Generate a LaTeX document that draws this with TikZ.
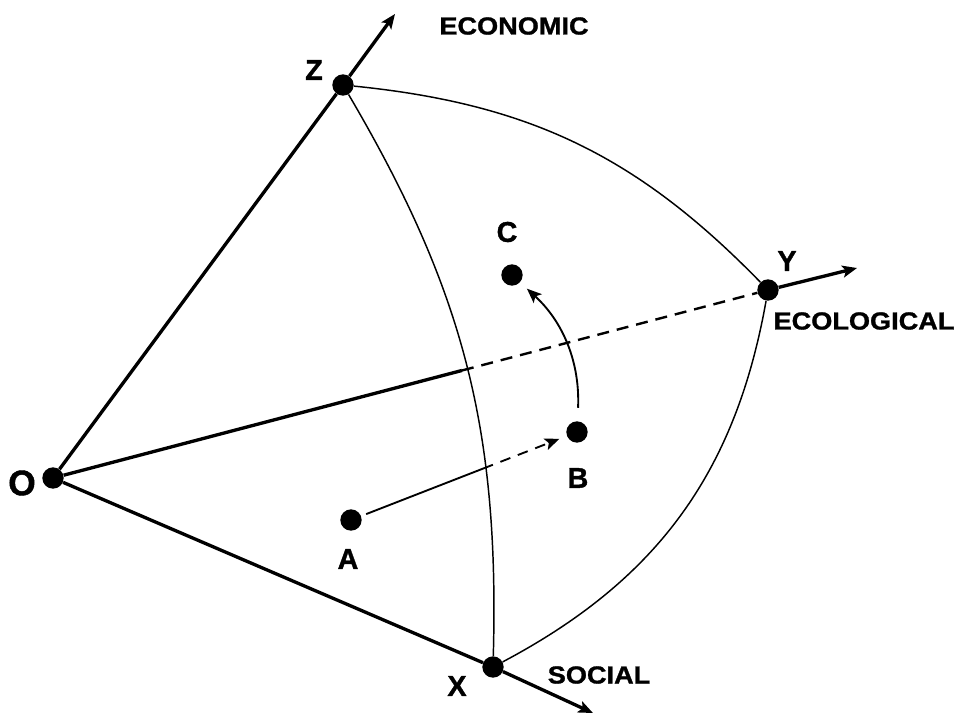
\documentclass[tikz,border=0pt]{standalone}
\usepackage{fontspec}
\newfontfamily\axisfont{Liberation Sans Bold}[FakeStretch=1.1,FakeBold=1.2]
\newfontfamily\letterfont{Liberation Sans Bold}[FakeBold=1.2]
\usepackage{tikz}
\usetikzlibrary{arrows.meta,calc}
\definecolor{diagink}{HTML}{000000}
\tikzset{
  >={Stealth[length=11pt,width=9pt,inset=2.5pt]},
  pointnode/.style={circle,fill=diagink,inner sep=0pt,minimum size=16pt},
  axisline/.style={line width=2.5pt,draw=diagink},
  axisarrow/.style={->,line width=2.5pt,draw=diagink},
  hiddenline/.style={dash pattern=on 9pt off 6pt,line width=1.8pt,draw=diagink},
  arcline/.style={line width=1.1pt,draw=diagink},
  pathline/.style={line width=1.4pt,draw=diagink},
  axislabel/.style={font=\axisfont\fontsize{18.5}{20}\selectfont,inner sep=0pt},
  pointlabel/.style={font=\letterfont\fontsize{21.5}{24}\selectfont,inner sep=0pt},
}

\begin{document}
\begin{tikzpicture}[x=0.75pt,y=-0.75pt]
  \useasboundingbox (0,0) rectangle (961,715);
  % points of the triangle and the paths
  \node[pointnode] (O) at (53,478) {};
  \node[pointnode] (Z) at (343,85) {};
  \node[pointnode] (Y) at (768,290) {};
  \node[pointnode] (X) at (493,667) {};
  \node[pointnode] (A) at (351,520) {};
  \node[pointnode] (B) at (577,432) {};
  \node[pointnode] (C) at (512,275) {};
  \coordinate (econEnd) at (395,14);
  \coordinate (ecoEnd) at (857,268);
  \coordinate (socEnd) at (593,713);
  \coordinate (cutOY) at ($(O)!0.572!(Y)$);
  \coordinate (cutAB) at ($(A)!0.584!(B)$);
  % axes
  \draw[axisline] (O) -- (Z);
  \draw[axisarrow] (Z) -- (econEnd);
  \draw[axisline] (O) -- (X);
  \draw[axisarrow] (X) -- (socEnd);
  \draw[axisline] (O) -- (cutOY);
  \draw[hiddenline] (cutOY) -- (Y);
  \draw[axisarrow] (Y) -- (ecoEnd);
  % curved faces
  \draw[arcline] (Z) to[bend left=20] (Y);
  \draw[arcline] (Z) to[bend left=16] (X);
  \draw[arcline] (X) to[bend right=26] (Y);
  % movement A -> B -> C
  \draw[pathline,shorten <=4pt] (A) -- (cutAB);
  \draw[pathline,->,dash pattern=on 8pt off 6pt,shorten >=6pt] (cutAB) -- (B);
  \draw[pathline,->,shorten <=10pt,shorten >=7pt] (B) to[bend right=25] (C);
  % labels
  \node[axislabel] (lblEconomic) at (514,26) {ECONOMIC};
  \node[axislabel] (lblEcological) at (864,321) {ECOLOGICAL};
  \node[axislabel] (lblSocial) at (599,675) {SOCIAL};
  \node[pointlabel] (lblZ) at (314,70) {Z};
  \node[pointlabel] (lblY) at (787,261) {Y};
  \node[pointlabel] (lblX) at (457,686) {X};
  \node[pointlabel] (lblA) at (348,559) {A};
  \node[pointlabel] (lblB) at (578,478) {B};
  \node[pointlabel] (lblC) at (507,232) {C};
  \node[pointlabel,font=\letterfont\fontsize{26.5}{30}\selectfont] (lblO) at (22,483) {O};
\end{tikzpicture}
\end{document}
